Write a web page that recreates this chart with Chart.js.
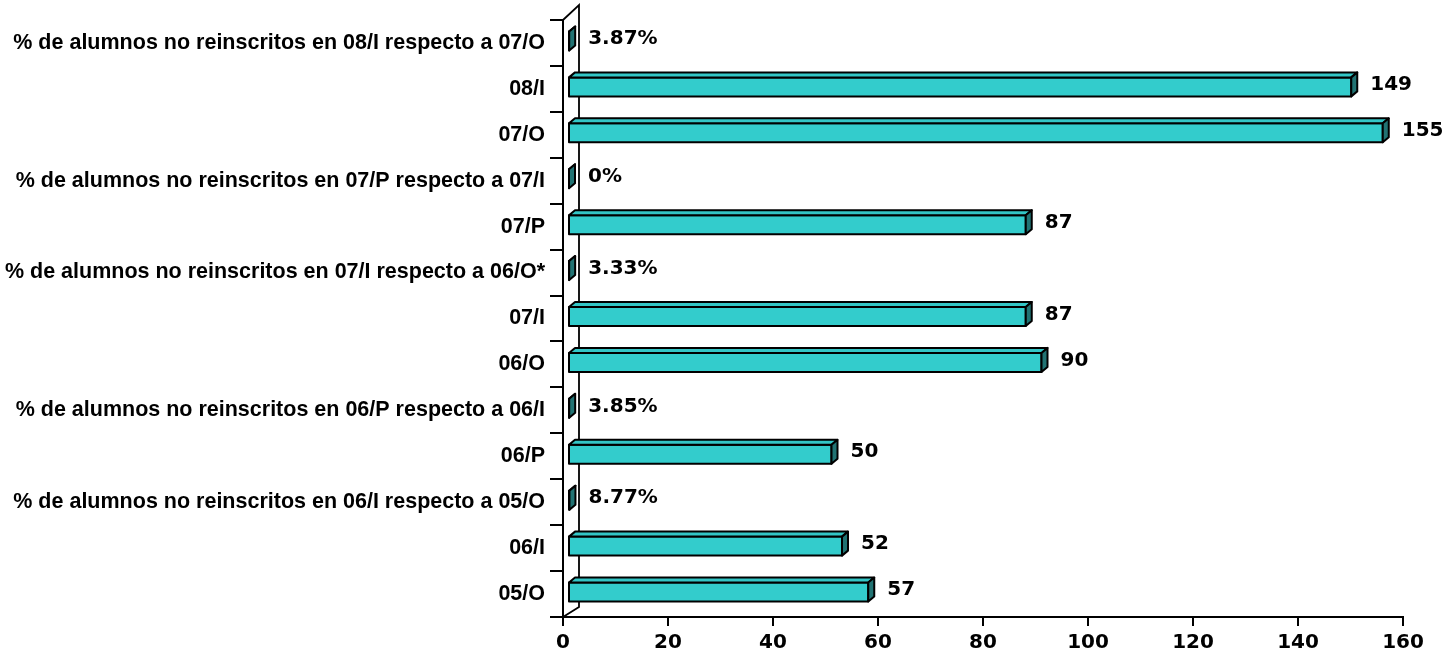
<!DOCTYPE html>
<html>
<head>
<meta charset="utf-8">
<script src="https://cdn.jsdelivr.net/npm/chart.js@4.4.1/dist/chart.umd.min.js"></script>
<style>
    html, body { margin: 0; padding: 0; background: #ffffff; }
    #wrap { width: 1454px; height: 666px; }
</style>
</head>
<body>
<div id="wrap"><canvas id="alumnosChart"></canvas></div>
<script>
/* =====================================
   DATA
===================================== */

const categories = [
    "% de alumnos no reinscritos en 08/I respecto a 07/O",
    "08/I",
    "07/O",
    "% de alumnos no reinscritos en 07/P respecto a 07/I",
    "07/P",
    "% de alumnos no reinscritos en 07/I respecto a 06/O*",
    "07/I",
    "06/O",
    "% de alumnos no reinscritos en 06/P respecto a 06/I",
    "06/P",
    "% de alumnos no reinscritos en 06/I respecto a 05/O",
    "06/I",
    "05/O"
];

// counts are students, "%" rows are fractions (shown as percent)
const values = [0.0387, 149, 155, 0, 87, 0.0333, 87, 90, 0.0385, 50, 0.0877, 52, 57];

const xTicks = [0, 20, 40, 60, 80, 100, 120, 140, 160];

/* =====================================
   STYLE
===================================== */

const FRONT = "#33CCCC";
const TOP = "#33C6C6";
const SIDE = "#217373";
const DX = 6, DY = 5, SHIFT = 6;

function labelFor(i) {
    const v = values[i];
    if (categories[i].startsWith("%")) {
        return v === 0 ? "0%" : (v * 100).toFixed(2) + "%";
    }
    return String(v);
}

function poly(ctx, pts, fill) {
    ctx.beginPath();
    ctx.moveTo(pts[0][0], pts[0][1]);
    for (let k = 1; k < pts.length; k++) ctx.lineTo(pts[k][0], pts[k][1]);
    ctx.closePath();
    ctx.fillStyle = fill;
    ctx.fill();
    ctx.stroke();
}

// back wall of the 3d plot
const wallPlugin = {
    id: "wall",
    beforeDatasetsDraw(chart) {
        const { ctx, chartArea: a } = chart;
        ctx.save();
        ctx.strokeStyle = "#000";
        ctx.lineWidth = 1.8;
        ctx.beginPath();
        ctx.moveTo(a.left, a.top);
        ctx.lineTo(a.left + 16, a.top - 15);
        ctx.lineTo(a.left + 16, a.bottom - 10);
        ctx.lineTo(a.left, a.bottom);
        ctx.stroke();
        ctx.restore();
    }
};

// 3d bars + value labels
const bars3dPlugin = {
    id: "bars3d",
    afterDatasetsDraw(chart) {
        const { ctx } = chart;
        const meta = chart.getDatasetMeta(0);
        const x0 = chart.scales.x.getPixelForValue(0);

        ctx.save();
        ctx.strokeStyle = "#000";
        ctx.lineWidth = 2;
        ctx.lineJoin = "round";

        meta.data.forEach((bar, i) => {
            const xs = x0 + SHIFT;
            const xe = bar.x + SHIFT;
            const h = bar.height;
            const top = bar.y - 2 - h / 2;
            const bot = top + h;

            // front face
            ctx.fillStyle = FRONT;
            ctx.fillRect(xs, top, xe - xs, h);
            ctx.strokeRect(xs, top, xe - xs, h);

            // top face
            poly(ctx, [[xs, top], [xe, top], [xe + DX, top - DY], [xs + DX, top - DY]], TOP);

            // end face
            poly(ctx, [[xe, top], [xe + DX, top - DY], [xe + DX, bot - DY], [xe, bot]], SIDE);

            // value label
            ctx.fillStyle = "#000";
            ctx.font = "bold 20px 'DejaVu Sans', Verdana, sans-serif";
            ctx.textAlign = "left";
            ctx.textBaseline = "middle";
            ctx.fillText(labelFor(i), xe + DX + 13, top + h / 2 - 2);
        });

        ctx.restore();
    }
};

/* =====================================
   CHART
===================================== */

const ctx = document.getElementById("alumnosChart").getContext("2d");

new Chart(ctx, {
    type: "bar",
    data: {
        labels: categories,
        datasets: [{
            data: values,
            backgroundColor: "rgba(0,0,0,0)",
            borderWidth: 0,
            barThickness: 19
        }]
    },
    options: {
        indexAxis: "y",
        responsive: true,
        maintainAspectRatio: false,
        animation: false,
        layout: {
            padding: { top: 20, right: 51, bottom: 0, left: 0 }
        },
        plugins: {
            legend: { display: false },
            tooltip: { enabled: false }
        },
        scales: {
            x: {
                type: "linear",
                min: xTicks[0],
                max: xTicks[xTicks.length - 1],
                afterBuildTicks: s => { s.ticks = xTicks.map(v => ({ value: v })); },
                afterFit: s => { s.height = 49; },
                border: { color: "#000", width: 2 },
                grid: {
                    drawOnChartArea: false,
                    color: "#000",
                    lineWidth: 2,
                    tickLength: 9
                },
                ticks: {
                    color: "#000",
                    padding: 5,
                    font: { family: "'DejaVu Sans', Verdana, sans-serif", size: 20, weight: "bold" }
                }
            },
            y: {
                offset: true,
                afterFit: s => { s.width = 563; },
                border: { color: "#000", width: 2 },
                grid: {
                    offset: true,
                    drawOnChartArea: false,
                    color: "#000",
                    lineWidth: 2,
                    tickLength: 13
                },
                ticks: {
                    color: "#000",
                    padding: 5,
                    autoSkip: false,
                    font: { family: "'Liberation Sans', Arial, sans-serif", size: 21.5, weight: "bold" }
                }
            }
        }
    },
    plugins: [wallPlugin, bars3dPlugin]
});
</script>
</body>
</html>
